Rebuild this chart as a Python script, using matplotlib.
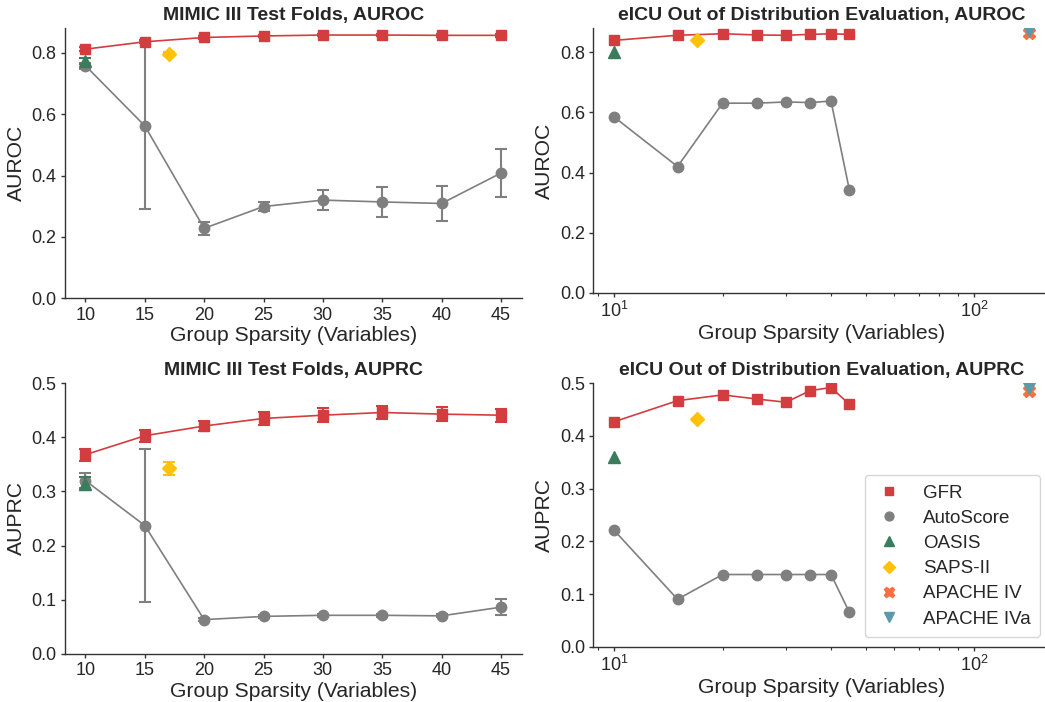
import matplotlib
matplotlib.use("Agg")
import matplotlib.pyplot as plt
from matplotlib.lines import Line2D
import numpy as np

plt.rcParams['font.family'] = ['Liberation Sans', 'DejaVu Sans']
plt.rcParams['mathtext.fontset'] = 'custom'
plt.rcParams['mathtext.rm'] = 'Liberation Sans'
plt.rcParams['mathtext.it'] = 'Liberation Sans'

# ---------------- data ----------------
sparsity = [10, 15, 20, 25, 30, 35, 40, 45]

# MIMIC III AUROC
mimic_gfr_auroc = [0.812, 0.836, 0.850, 0.855, 0.858, 0.858, 0.857, 0.857]
mimic_gfr_auroc_err = [0.006, 0.005, 0.005, 0.004, 0.004, 0.004, 0.004, 0.004]
mimic_auto_auroc = [0.758, 0.562, 0.228, 0.299, 0.320, 0.314, 0.309, 0.408]
mimic_auto_auroc_err = [0.010, 0.272, 0.022, 0.016, 0.032, 0.048, 0.056, 0.077]
mimic_oasis_auroc, mimic_oasis_auroc_err = 0.773, 0.010
mimic_saps_auroc, mimic_saps_auroc_err = 0.796, 0.006

# MIMIC III AUPRC
mimic_gfr_auprc = [0.368, 0.403, 0.421, 0.435, 0.441, 0.446, 0.443, 0.441]
mimic_gfr_auprc_err = [0.011, 0.011, 0.010, 0.012, 0.013, 0.012, 0.013, 0.012]
mimic_auto_auprc = [0.320, 0.237, 0.063, 0.069, 0.071, 0.071, 0.070, 0.086]
mimic_auto_auprc_err = [0.014, 0.142, 0.003, 0.003, 0.003, 0.003, 0.003, 0.015]
mimic_oasis_auprc, mimic_oasis_auprc_err = 0.314, 0.012
mimic_saps_auprc, mimic_saps_auprc_err = 0.343, 0.012

# eICU AUROC
eicu_gfr_auroc = [0.840, 0.857, 0.862, 0.858, 0.857, 0.860, 0.862, 0.860]
eicu_auto_auroc = [0.585, 0.420, 0.631, 0.631, 0.635, 0.633, 0.638, 0.341]
eicu_oasis_auroc = 0.802
eicu_saps_auroc = 0.842
eicu_apache4_auroc = 0.865
eicu_apache4a_auroc = 0.870

# eICU AUPRC
eicu_gfr_auprc = [0.427, 0.467, 0.478, 0.470, 0.464, 0.486, 0.492, 0.460]
eicu_auto_auprc = [0.221, 0.090, 0.137, 0.137, 0.137, 0.137, 0.137, 0.065]
eicu_oasis_auprc = 0.361
eicu_saps_auprc = 0.433
eicu_apache4_auprc = 0.486
eicu_apache4a_auprc = 0.491

oasis_vars = 10
saps_vars = 17
apache_vars = 142

labels = ["GFR", "AutoScore", "OASIS", "SAPS-II", "APACHE IV", "APACHE IVa"]

# ---------------- styles ----------------
c_gfr = "#d43d3f"
c_auto = "#7f7f7f"
c_oasis = "#3a7d5c"
c_saps = "#ffc20a"
c_ap4 = "#ff6e40"
c_ap4a = "#5b9aa8"

markers = ['s', 'o', '^', 'D', 'X', 'v']
colors = [c_gfr, c_auto, c_oasis, c_saps, c_ap4, c_ap4a]
msizes = [7.5, 7.5, 8, 7, 8.5, 8]

fig = plt.figure(figsize=(10.45, 7.02), dpi=100)
ax_tl = fig.add_axes([0.0619, 0.5751, 0.4373, 0.3846])
ax_tr = fig.add_axes([0.5678, 0.5830, 0.4370, 0.3766])
ax_bl = fig.add_axes([0.0619, 0.0688, 0.4373, 0.3852])
ax_br = fig.add_axes([0.5678, 0.0788, 0.4370, 0.3752])

TICK_FS = 13
LABEL_FS = 15.2
TITLE_FS = 14

def style(ax):
    for s in ['top', 'right']:
        ax.spines[s].set_visible(False)
    for s in ['left', 'bottom']:
        ax.spines[s].set_color('#333333')
        ax.spines[s].set_linewidth(1.0)
    ax.tick_params(axis='both', which='major', length=3, width=1.0,
                   labelsize=TICK_FS, colors='#333333', labelcolor='#262626', pad=3)
    ax.tick_params(axis='both', which='minor', length=2, width=0.8, colors='#333333')

EB = dict(elinewidth=1.5, capsize=4.5, capthick=1.5)

def mimic_panel(ax, gfr, gfr_err, auto, auto_err, oasis, oasis_err, saps, saps_err, title, ylabel, ylim, yticks):
    ax.errorbar(sparsity, gfr, yerr=gfr_err, color=c_gfr, marker='s', ms=msizes[0], lw=1.2,
                ecolor=c_gfr, zorder=4, **EB)
    ax.errorbar(sparsity, auto, yerr=auto_err, color=c_auto, marker='o', ms=msizes[1], lw=1.2,
                ecolor=c_auto, zorder=3, **EB)
    ax.errorbar([oasis_vars], [oasis], yerr=[oasis_err], color=c_oasis, marker='^', ms=msizes[2], lw=0,
                ecolor=c_oasis, zorder=5, **EB)
    ax.errorbar([saps_vars], [saps], yerr=[saps_err], color=c_saps, marker='D', ms=msizes[3], lw=0,
                ecolor=c_saps, zorder=5, **EB)
    ax.set_xticks(sparsity)
    ax.set_ylim(*ylim)
    ax.set_yticks(yticks)
    ax.set_title(title, fontsize=TITLE_FS, fontweight='bold', color='#262626')
    ax.set_xlabel("Group Sparsity (Variables)", fontsize=LABEL_FS, color='#262626', labelpad=2)
    ax.set_ylabel(ylabel, fontsize=LABEL_FS, color='#262626')
    style(ax)

def eicu_panel(ax, gfr, auto, oasis, saps, ap4, ap4a, title, ylabel, ylim, yticks, legend=False):
    ax.plot(sparsity, gfr, color=c_gfr, marker='s', ms=msizes[0], lw=1.2, zorder=4)
    ax.plot(sparsity, auto, color=c_auto, marker='o', ms=msizes[1], lw=1.2, zorder=3)
    ax.plot([oasis_vars], [oasis], color=c_oasis, marker='^', ms=msizes[2], lw=0, zorder=5)
    ax.plot([saps_vars], [saps], color=c_saps, marker='D', ms=msizes[3], lw=0, zorder=5)
    ax.plot([apache_vars], [ap4], color=c_ap4, marker='X', ms=msizes[4], lw=0, zorder=5)
    ax.plot([apache_vars], [ap4a], color=c_ap4a, marker='v', ms=msizes[5], lw=0, zorder=6)
    ax.set_xscale('log')
    ax.set_ylim(*ylim)
    ax.set_yticks(yticks)
    ax.set_title(title, fontsize=TITLE_FS, fontweight='bold', color='#262626')
    ax.set_xlabel("Group Sparsity (Variables)", fontsize=LABEL_FS, color='#262626', labelpad=2)
    ax.set_ylabel(ylabel, fontsize=LABEL_FS, color='#262626')
    style(ax)
    if legend:
        handles = [Line2D([], [], linestyle='None', marker=m, color=c, ms=s * 0.85)
                   for m, c, s in zip(markers, colors, msizes)]
        leg = ax.legend(handles, labels, loc='lower right', fontsize=13.5, frameon=True,
                        handlelength=1.6, handletextpad=1.0, labelspacing=0.43, borderpad=0.5,
                        borderaxespad=0.0, bbox_to_anchor=(0.978, 0.037))
        leg.get_frame().set_edgecolor('#cccccc')
        for t in leg.get_texts():
            t.set_color('#262626')

mimic_panel(ax_tl, mimic_gfr_auroc, mimic_gfr_auroc_err, mimic_auto_auroc, mimic_auto_auroc_err,
            mimic_oasis_auroc, mimic_oasis_auroc_err, mimic_saps_auroc, mimic_saps_auroc_err,
            "MIMIC III Test Folds, AUROC", "AUROC", (0, 0.88), [0.0, 0.2, 0.4, 0.6, 0.8])
mimic_panel(ax_bl, mimic_gfr_auprc, mimic_gfr_auprc_err, mimic_auto_auprc, mimic_auto_auprc_err,
            mimic_oasis_auprc, mimic_oasis_auprc_err, mimic_saps_auprc, mimic_saps_auprc_err,
            "MIMIC III Test Folds, AUPRC", "AUPRC", (0, 0.5), [0.0, 0.1, 0.2, 0.3, 0.4, 0.5])
eicu_panel(ax_tr, eicu_gfr_auroc, eicu_auto_auroc, eicu_oasis_auroc, eicu_saps_auroc,
           eicu_apache4_auroc, eicu_apache4a_auroc,
           "eICU Out of Distribution Evaluation, AUROC", "AUROC", (0, 0.88), [0.0, 0.2, 0.4, 0.6, 0.8])
eicu_panel(ax_br, eicu_gfr_auprc, eicu_auto_auprc, eicu_oasis_auprc, eicu_saps_auprc,
           eicu_apache4_auprc, eicu_apache4a_auprc,
           "eICU Out of Distribution Evaluation, AUPRC", "AUPRC", (0, 0.5), [0.0, 0.1, 0.2, 0.3, 0.4, 0.5],
           legend=True)

fig.savefig("out.png", dpi=100)
